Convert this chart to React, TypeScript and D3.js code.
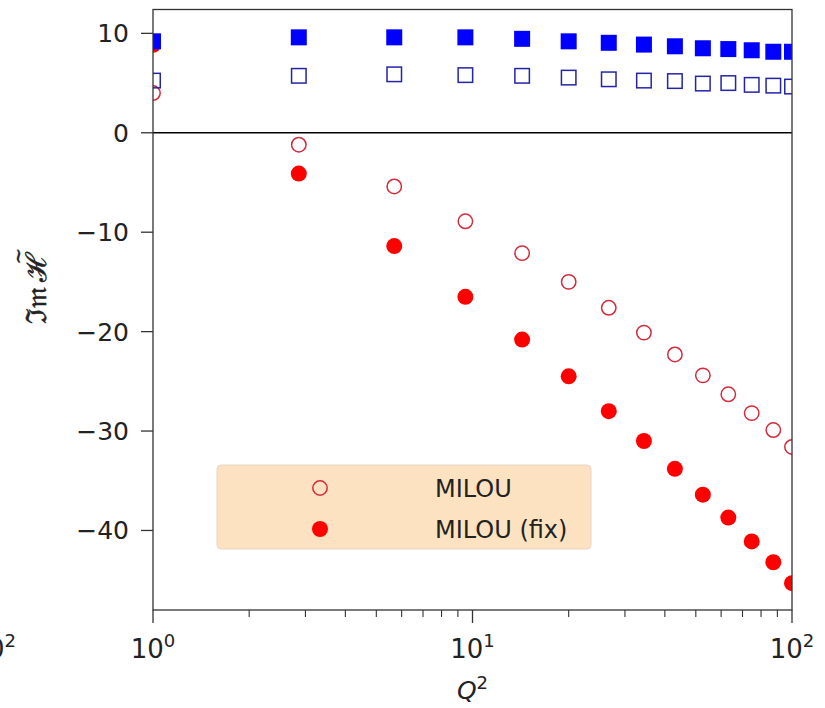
import * as d3 from 'd3';

// Q^2 positions shared by all four series
const Q2 = [1, 2.86, 5.69, 9.5, 14.3, 20.0, 26.7, 34.4, 43.0, 52.6, 63.2, 74.8, 87.4, 100];
const MILOU = [4.0, -1.2, -5.4, -8.9, -12.1, -15.0, -17.6, -20.1, -22.3, -24.4, -26.3, -28.2, -29.9, -31.6];
const MILOU_FIX = [8.85, -4.1, -11.4, -16.5, -20.8, -24.5, -28.0, -31.0, -33.8, -36.4, -38.7, -41.1, -43.2, -45.3];
const BLUE_FILLED = [9.2, 9.6, 9.6, 9.6, 9.45, 9.2, 9.05, 8.87, 8.7, 8.5, 8.42, 8.3, 8.15, 8.15];
const BLUE_OPEN = [5.25, 5.73, 5.88, 5.8, 5.73, 5.55, 5.38, 5.25, 5.2, 4.95, 5.0, 4.82, 4.74, 4.65];

const Y_TICKS = [-40, -30, -20, -10, 0, 10];
const X_MAJOR = [1, 10, 100];
const X_EXP = ['0', '1', '2'];
const X_MINOR = [2, 3, 4, 5, 6, 7, 8, 9, 20, 30, 40, 50, 60, 70, 80, 90];
const LEGEND = [
  { label: 'MILOU', filled: false },
  { label: 'MILOU (fix)', filled: true },
];

const W = 825;
const H = 708;
const PLOT = { left: 153, right: 792, top: 9.5, bottom: 610 };
const FONT = '"DejaVu Sans", sans-serif';
const RED = '#ff0000';
const RED_EDGE = '#d42a3c';
const BLUE = '#0000ff';
const BLUE_EDGE = '#2424a8';
const R = 8;
const SQ = 16;

export default function App() {
  const x = d3.scaleLog().domain([1, 100]).range([PLOT.left, PLOT.right]);
  const y = d3.scaleLinear().domain([-48, 12.4]).range([PLOT.bottom, PLOT.top]);

  const pw = PLOT.right - PLOT.left;
  const ph = PLOT.bottom - PLOT.top;

  return (
    <div style={{ position: 'absolute', left: 0, top: 0 }}>
      <svg width={W} height={H} style={{ display: 'block', background: '#fff' }}>
        <defs>
          <clipPath id="plot-clip">
            <rect x={PLOT.left} y={PLOT.top} width={pw} height={ph} />
          </clipPath>
        </defs>

        {/* zero line */}
        <line x1={PLOT.left} x2={PLOT.right} y1={y(0)} y2={y(0)} stroke="#000" strokeWidth={1.6} />

        <g clipPath="url(#plot-clip)">
          {Q2.map((q, i) => (
            <circle key={'mo' + i} cx={x(q)} cy={y(MILOU[i])} r={R - 0.8} fill="none" stroke={RED_EDGE} strokeWidth={1.5} />
          ))}
          {Q2.map((q, i) => (
            <circle key={'mf' + i} cx={x(q)} cy={y(MILOU_FIX[i])} r={R} fill={RED} />
          ))}
          {Q2.map((q, i) => (
            <rect key={'bo' + i} x={x(q) - SQ / 2 + 0.75} y={y(BLUE_OPEN[i]) - SQ / 2 + 0.75} width={SQ - 1.5} height={SQ - 1.5} fill="none" stroke={BLUE_EDGE} strokeWidth={1.5} />
          ))}
          {Q2.map((q, i) => (
            <rect key={'bf' + i} x={x(q) - SQ / 2} y={y(BLUE_FILLED[i]) - SQ / 2} width={SQ} height={SQ} fill={BLUE} />
          ))}
        </g>

        {/* spines */}
        <rect x={PLOT.left} y={PLOT.top} width={pw} height={ph} fill="none" stroke="#333" strokeWidth={1.3} />

        {/* y ticks */}
        {Y_TICKS.map((t) => (
          <g key={'yt' + t}>
            <line x1={PLOT.left - 12} x2={PLOT.left} y1={y(t)} y2={y(t)} stroke="#333" strokeWidth={1.3} />
            <text x={PLOT.left - 24} y={y(t)} dy="0.36em" textAnchor="end" fontFamily={FONT} fontSize={25} fill="#222">
              {t < 0 ? '\u2212' + Math.abs(t) : String(t)}
            </text>
          </g>
        ))}

        {/* x ticks */}
        {X_MINOR.map((t) => (
          <line key={'xm' + t} x1={x(t)} x2={x(t)} y1={PLOT.bottom} y2={PLOT.bottom + 7} stroke="#333" strokeWidth={1.1} />
        ))}
        {X_MAJOR.map((t, i) => (
          <g key={'xt' + t}>
            <line x1={x(t)} x2={x(t)} y1={PLOT.bottom} y2={PLOT.bottom + 13} stroke="#333" strokeWidth={1.3} />
            <text x={x(t)} y={658} textAnchor="middle" fontFamily={FONT} fontSize={26} fill="#222">
              10<tspan dy={-11} fontSize={18}>{X_EXP[i]}</tspan>
            </text>
          </g>
        ))}

        {/* fragment of neighbouring panel's tick label */}
        <text x={16} y={658} textAnchor="end" fontFamily={FONT} fontSize={26} fill="#222">
          10<tspan dy={-11} fontSize={18}>2</tspan>
        </text>

        {/* axis labels */}
        <text x={(PLOT.left + PLOT.right) / 2} y={699} textAnchor="middle" fontFamily={FONT} fontSize={25} fontStyle="italic" fill="#222">
          Q<tspan dy={-10} fontSize={18} fontStyle="normal">2</tspan>
        </text>
        <g transform={`translate(46, 288) rotate(-90)`}>
          <text x={0} y={0} textAnchor="middle" fontFamily='"DejaVu Serif", serif' fontSize={28} fill="#222" stroke="#222" strokeWidth={0.5}>
            {'\u2111\u{1D52A}\u2009\u210B'}
          </text>
          <text x={32} y={-21} textAnchor="middle" fontFamily='"DejaVu Serif", serif' fontSize={20} fill="#222" stroke="#222" strokeWidth={0.4}>
            ~
          </text>
        </g>

        {/* legend */}
        <g>
          <rect x={217} y={465} width={374} height={84} rx={4} fill="#fce2c0" stroke="#e6d6c4" strokeWidth={1} />
          {LEGEND.map((d, i) => {
            const cy = 488 + i * 41;
            return (
              <g key={d.label}>
                {d.filled ? (
                  <circle cx={320} cy={cy} r={R} fill={RED} />
                ) : (
                  <circle cx={320} cy={cy} r={R - 0.8} fill="none" stroke={RED_EDGE} strokeWidth={1.5} />
                )}
                <text x={435} y={cy} dy="0.36em" fontFamily={FONT} fontSize={24} fill="#222">
                  {d.label}
                </text>
              </g>
            );
          })}
        </g>
      </svg>
    </div>
  );
}
